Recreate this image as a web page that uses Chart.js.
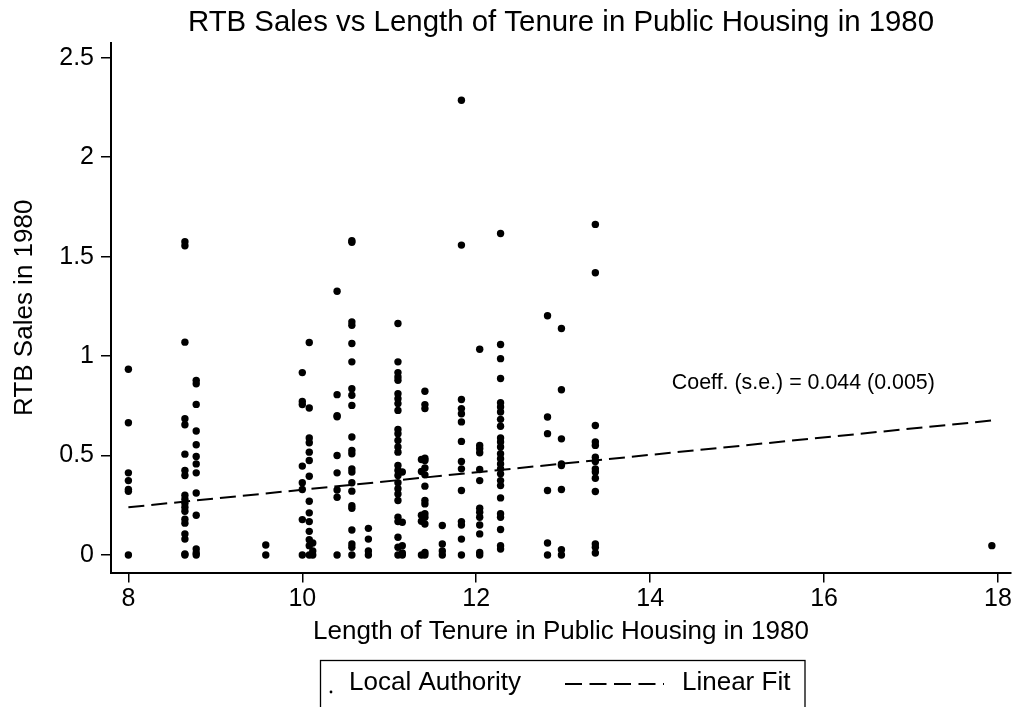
<!DOCTYPE html>
<html>
<head>
<meta charset="utf-8">
<script src="https://cdn.jsdelivr.net/npm/chart.js@4.4.0/dist/chart.umd.min.js"></script>
<style>
  html, body { margin: 0; padding: 0; background: #fff; }
</style>
</head>
<body>
<canvas id="scatterChart" width="1016" height="707"></canvas>
<script>
// Tenure columns (x) and the RTB sales (y)
const tenureGroups = [8.0, 8.65, 8.78, 9.58, 10.0, 10.08, 10.12, 10.4, 10.57, 10.76,
    11.1, 11.15, 11.37, 11.41, 11.61, 11.83, 12.04, 12.28, 12.82, 12.98, 13.37, 17.93];
const salesGroups = [
    [0.934, 0.665, 0.413, 0.374, 0.33, 0.32, 0],
    [1.575, 1.555, 1.07, 0.685, 0.655, 0.507, 0.425, 0.40, 0.30, 0.28, 0.26, 0.24, 0.22, 0.18, 0.16, 0.106, 0.08, 0.005, 0],
    [0.878, 0.861, 0.757, 0.623, 0.554, 0.495, 0.458, 0.413, 0.312, 0.20, 0.03, 0.01, 0],
    [0.05, 0],
    [0.917, 0.772, 0.756, 0.447, 0.363, 0.329, 0.178, 0],
    [1.068, 0.739, 0.588, 0.564, 0.517, 0.475, 0.396, 0.27, 0.212, 0.168, 0.119, 0.077, 0.047, 0],
    [0.06, 0.02, 0],
    [1.326, 0.806, 0.70, 0.695, 0.50, 0.413, 0.327, 0.29, 0],
    [1.58, 1.572, 1.172, 1.155, 1.063, 0.971, 0.836, 0.803, 0.752, 0.593, 0.525, 0.509, 0.433, 0.417, 0.363, 0.321, 0.248, 0.235, 0.126, 0.055, 0.039, 0],
    [0.134, 0.08, 0.02, 0],
    [1.164, 0.971, 0.917, 0.895, 0.878, 0.811, 0.786, 0.761, 0.727, 0.631, 0.61, 0.576, 0.543, 0.517, 0.45, 0.425, 0.40, 0.363, 0.333, 0.307, 0.274, 0.19, 0.168, 0.089, 0.039, 0],
    [0.417, 0.165, 0.047, 0.01, 0],
    [0.48, 0.42, 0.20, 0.17, 0],
    [0.823, 0.756, 0.736, 0.487, 0.475, 0.437, 0.403, 0.346, 0.274, 0.257, 0.207, 0.19, 0.156, 0.013, 0],
    [0.148, 0.055, 0.02, 0],
    [2.286, 1.558, 0.782, 0.736, 0.71, 0.669, 0.571, 0.47, 0.433, 0.324, 0.168, 0.151, 0.08, 0],
    [1.034, 0.551, 0.534, 0.514, 0.43, 0.374, 0.235, 0.215, 0.19, 0.151, 0.106, 0.013, 0],
    [1.616, 1.058, 0.987, 0.887, 0.766, 0.744, 0.719, 0.682, 0.647, 0.588, 0.568, 0.543, 0.509, 0.484, 0.458, 0.433, 0.408, 0.374, 0.349, 0.287, 0.207, 0.19, 0.128, 0.047, 0.03],
    [1.203, 0.694, 0.61, 0.324, 0.06, 0],
    [1.139, 0.831, 0.584, 0.458, 0.45, 0.329, 0.027, 0],
    [1.662, 1.419, 0.651, 0.568, 0.551, 0.492, 0.47, 0.433, 0.417, 0.386, 0.319, 0.055, 0.039, 0.01],
    [0.047]
];

// Linear fit end points
const fitX = [8.0, 17.93];
const fitY = [0.24, 0.676];

const xTicks = [8, 10, 12, 14, 16, 18];
const yTicks = [0, 0.5, 1, 1.5, 2, 2.5];
const chartTitle = "RTB Sales vs Length of Tenure in Public Housing in 1980";
const coeffText = "Coeff. (s.e.) = 0.044 (0.005)";

const FONT = '"Liberation Sans", Arial, sans-serif';

const scatterPoints = tenureGroups.flatMap((x, i) => salesGroups[i].map(y => ({ x: x, y: y })));
const fitPoints = fitX.map((x, i) => ({ x: x, y: fitY[i] }));

// title over the plot region, coefficient note, Stata-style boxed legend
const extrasPlugin = {
    id: "extras",
    afterDraw(chart) {
        const ctx = chart.ctx;
        const area = chart.chartArea;
        const xs = chart.scales.x, ys = chart.scales.y;
        const ds = chart.data.datasets;
        ctx.save();
        ctx.fillStyle = "#000";
        ctx.textBaseline = "middle";

        ctx.textAlign = "center";
        ctx.font = "29.4px " + FONT;
        ctx.fillText(chartTitle, (area.left + area.right) / 2, 23);

        ctx.textAlign = "left";
        ctx.font = "21.4px " + FONT;
        ctx.fillText(coeffText, xs.getPixelForValue(14.25), ys.getPixelForValue(0.865));

        // legend box
        ctx.strokeStyle = "#000";
        ctx.lineWidth = 1.3;
        ctx.strokeRect(320.5, 660.5, 484.5, 70);
        ctx.beginPath();
        ctx.arc(331, 692, 1.4, 0, Math.PI * 2);
        ctx.fill();
        ctx.font = "26px " + FONT;
        ctx.fillText(ds[0].label, 349, 683);
        ctx.lineWidth = 2;
        ctx.setLineDash([17, 7.5]);
        ctx.beginPath();
        ctx.moveTo(565, 684);
        ctx.lineTo(664, 684);
        ctx.stroke();
        ctx.setLineDash([]);
        ctx.fillText(ds[1].label, 682, 683);
        ctx.restore();
    }
};

const ctx = document.getElementById("scatterChart").getContext("2d");
new Chart(ctx, {
    type: "scatter",
    data: {
        datasets: [{
            label: "Local Authority",
            data: scatterPoints,
            backgroundColor: "#000",
            borderWidth: 0,
            pointRadius: 3.7,
            pointHoverRadius: 3.7
        }, {
            type: "line",
            label: "Linear Fit",
            data: fitPoints,
            borderColor: "#000",
            borderWidth: 2,
            borderDash: [16, 7],
            pointRadius: 0,
            fill: false
        }]
    },
    options: {
        responsive: false,
        animation: false,
        devicePixelRatio: 1,
        layout: { padding: { top: 43, right: 5, bottom: 0, left: 0 } },
        plugins: {
            legend: { display: false },
            tooltip: { enabled: false },
            title: { display: false }
        },
        scales: {
            x: {
                type: "linear",
                min: 7.8,
                max: 18.15,
                afterBuildTicks: s => { s.ticks = xTicks.map(v => ({ value: v })); },
                afterFit: s => { s.height = 134.5; },
                grid: { drawOnChartArea: false, drawTicks: true, tickLength: 10, color: "#000", lineWidth: 1.5 },
                border: { display: true, color: "#000", width: 2 },
                ticks: { color: "#000", font: { family: FONT, size: 25 }, padding: 1.5, maxRotation: 0,
                         callback: v => String(v) },
                title: {
                    display: true,
                    text: "Length of Tenure in Public Housing in 1980",
                    color: "#000",
                    font: { family: FONT, size: 26 },
                    padding: { top: 0, bottom: 59.4 }
                }
            },
            y: {
                type: "linear",
                min: -0.088,
                max: 2.574,
                afterBuildTicks: s => { s.ticks = yTicks.map(v => ({ value: v })); },
                afterFit: s => { s.width = 111; },
                grid: { drawOnChartArea: false, drawTicks: true, tickLength: 10, color: "#000", lineWidth: 1.5 },
                border: { display: true, color: "#000", width: 2 },
                ticks: { color: "#000", font: { family: FONT, size: 25 }, padding: 7,
                         callback: v => String(v) },
                title: {
                    display: true,
                    text: "RTB Sales in 1980",
                    color: "#000",
                    font: { family: FONT, size: 26 },
                    padding: { top: 9.4, bottom: 0 }
                }
            }
        }
    },
    plugins: [extrasPlugin]
});
</script>
</body>
</html>
